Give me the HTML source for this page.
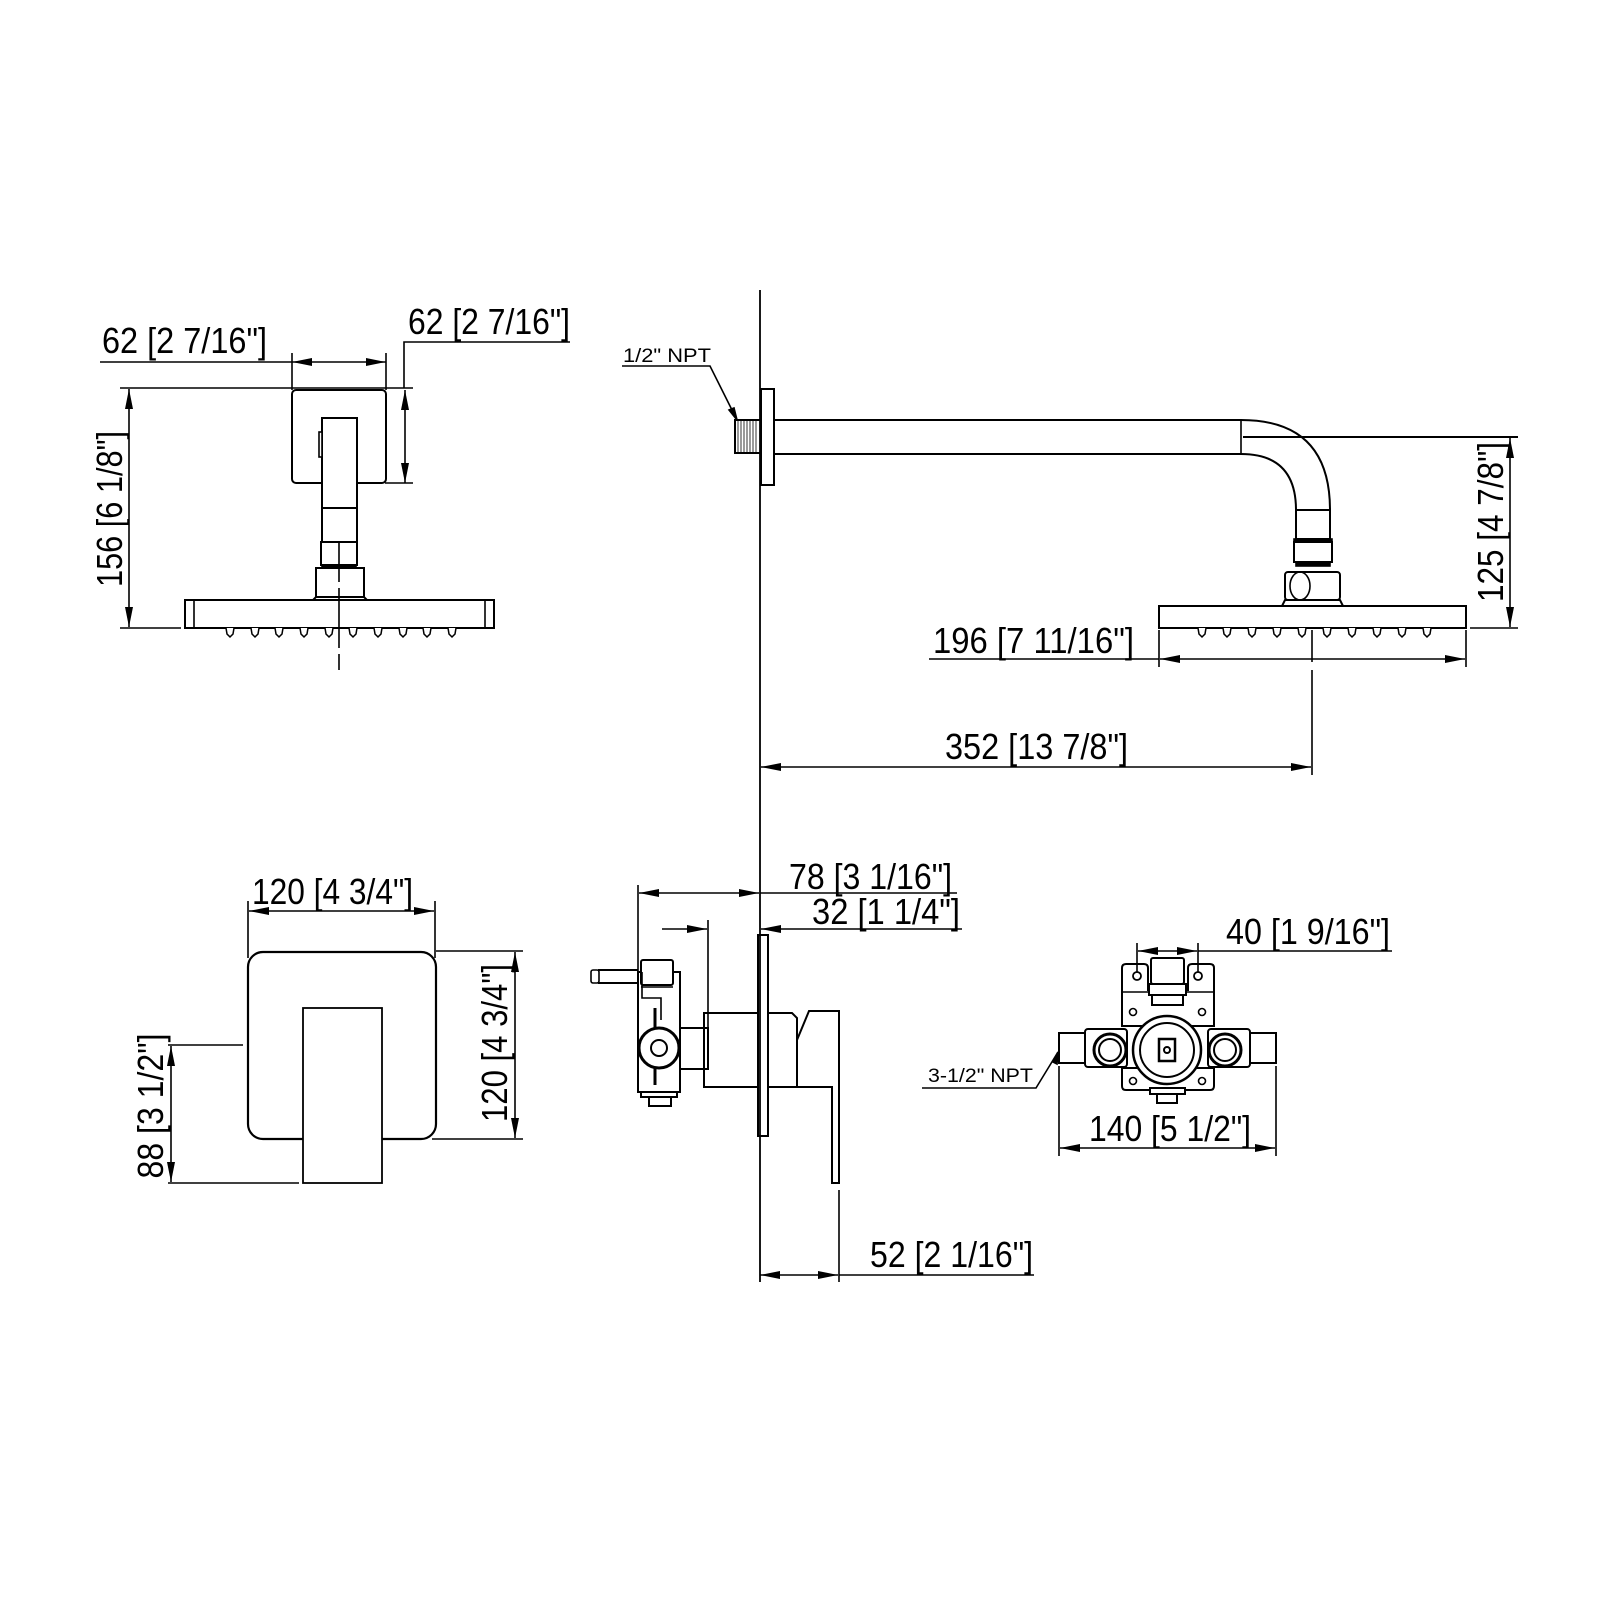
<!DOCTYPE html>
<html><head><meta charset="utf-8"><style>
html,body{margin:0;padding:0;background:#fff;}
svg{display:block}
text{font-family:"Liberation Sans",sans-serif;fill:#000}
</style></head><body>
<svg width="1600" height="1600" viewBox="0 0 1600 1600" xmlns="http://www.w3.org/2000/svg">
<defs>
<marker id="a" markerUnits="userSpaceOnUse" markerWidth="22" markerHeight="10" refX="20" refY="4" orient="auto-start-reverse"><path d="M0,0 L20,4 L0,8 z" fill="#000"/></marker>
</defs>
<g stroke="#000" fill="none" stroke-width="1.6">
<line x1="100" y1="362" x2="292" y2="362"/>
<line x1="292" y1="362" x2="386" y2="362" marker-start="url(#a)" marker-end="url(#a)"/>
<line x1="292" y1="353" x2="292" y2="390"/>
<line x1="386" y1="353" x2="386" y2="390"/>
<polyline points="570,342 404,342 404,388"/>
<line x1="120" y1="388" x2="413" y2="388"/>
<line x1="385" y1="483" x2="413" y2="483"/>
<line x1="405" y1="390" x2="405" y2="483" marker-start="url(#a)" marker-end="url(#a)"/>
<line x1="129" y1="389" x2="129" y2="627" marker-start="url(#a)" marker-end="url(#a)"/>
<line x1="120" y1="628" x2="181" y2="628"/>
<rect x="292" y="390" width="94" height="93" rx="4" stroke-width="2"/>
<rect x="322" y="418" width="35" height="90" fill="#fff" stroke-width="2"/>
<rect x="319" y="432" width="3" height="25" fill="#fff"/>
<rect x="322" y="508" width="35" height="34" fill="#fff" stroke-width="2"/>
<rect x="321" y="542" width="36" height="23" fill="#fff" stroke-width="2"/>
<rect x="322" y="565" width="34" height="3" fill="#000"/>
<rect x="316" y="568" width="48" height="29" fill="#fff" stroke-width="2"/>
<polygon points="316,597 364,597 367,600 313,600" fill="#fff" stroke-width="2"/>
<rect x="185" y="600" width="309" height="28" stroke-width="2"/>
<line x1="194" y1="600" x2="194" y2="628"/>
<line x1="485" y1="600" x2="485" y2="628"/>
<line x1="339" y1="542" x2="339" y2="670" stroke-dasharray="40,6,60,6"/>
<g fill="#fff" stroke-width="1.5">
<path d="M226,628 l1,6 l3,3 l3,-3 l1,-6"/><path d="M251,628 l1,6 l3,3 l3,-3 l1,-6"/><path d="M275,628 l1,6 l3,3 l3,-3 l1,-6"/><path d="M300,628 l1,6 l3,3 l3,-3 l1,-6"/><path d="M325,628 l1,6 l3,3 l3,-3 l1,-6"/><path d="M349,628 l1,6 l3,3 l3,-3 l1,-6"/><path d="M374,628 l1,6 l3,3 l3,-3 l1,-6"/><path d="M399,628 l1,6 l3,3 l3,-3 l1,-6"/><path d="M423,628 l1,6 l3,3 l3,-3 l1,-6"/><path d="M448,628 l1,6 l3,3 l3,-3 l1,-6"/>
</g>

<line x1="760" y1="290" x2="760" y2="1282" stroke-width="1.8"/>

<polyline points="622,366 710,366 737,420"/>
<path d="M737,420 l-8,-10 l5,-2 z" fill="#000"/>
<rect x="735" y="420" width="26" height="33" stroke-width="2"/>
<g stroke-width="0.8"><line x1="738" y1="420" x2="738" y2="453"/><line x1="741" y1="420" x2="741" y2="453"/><line x1="744" y1="420" x2="744" y2="453"/><line x1="747" y1="420" x2="747" y2="453"/><line x1="750" y1="420" x2="750" y2="453"/><line x1="753" y1="420" x2="753" y2="453"/><line x1="756" y1="420" x2="756" y2="453"/></g>
<rect x="761" y="389" width="13" height="96" stroke-width="2"/>
<line x1="774" y1="420" x2="1241" y2="420" stroke-width="2"/>
<line x1="774" y1="454" x2="1241" y2="454" stroke-width="2"/>
<line x1="1241" y1="420" x2="1241" y2="454"/>
<path d="M1241,420 Q1330,420 1330,510" stroke-width="2"/>
<path d="M1241,454 Q1296,454 1296,510" stroke-width="2"/>
<rect x="1296" y="510" width="34" height="29" fill="#fff" stroke-width="2"/>
<rect x="1294" y="539" width="38" height="3" fill="#000"/>
<rect x="1294" y="542" width="38" height="20" fill="#fff" stroke-width="2"/>
<rect x="1296" y="562" width="34" height="4" fill="#000"/>
<rect x="1285" y="572" width="55" height="28" rx="3" fill="#fff" stroke-width="2"/>
<ellipse cx="1300" cy="586" rx="10" ry="14" stroke-width="1.6"/>
<polygon points="1285,600 1340,600 1343,606 1282,606" fill="#fff" stroke-width="2"/>
<rect x="1159" y="606" width="307" height="22" stroke-width="2"/>
<g fill="#fff" stroke-width="1.5">
<path d="M1198,628 l1,6 l3,3 l3,-3 l1,-6"/><path d="M1223,628 l1,6 l3,3 l3,-3 l1,-6"/><path d="M1248,628 l1,6 l3,3 l3,-3 l1,-6"/><path d="M1273,628 l1,6 l3,3 l3,-3 l1,-6"/><path d="M1298,628 l1,6 l3,3 l3,-3 l1,-6"/><path d="M1323,628 l1,6 l3,3 l3,-3 l1,-6"/><path d="M1348,628 l1,6 l3,3 l3,-3 l1,-6"/><path d="M1373,628 l1,6 l3,3 l3,-3 l1,-6"/><path d="M1398,628 l1,6 l3,3 l3,-3 l1,-6"/><path d="M1423,628 l1,6 l3,3 l3,-3 l1,-6"/>
</g>
<line x1="1312" y1="630" x2="1312" y2="662"/>
<line x1="1312" y1="670" x2="1312" y2="775"/>
<line x1="1243" y1="437" x2="1518" y2="437" stroke-width="2"/>
<line x1="1470" y1="628" x2="1518" y2="628"/>
<line x1="1510" y1="438" x2="1510" y2="627" marker-start="url(#a)" marker-end="url(#a)"/>
<line x1="929" y1="659" x2="1159" y2="659"/>
<line x1="1160" y1="659" x2="1465" y2="659" marker-start="url(#a)" marker-end="url(#a)"/>
<line x1="1159" y1="630" x2="1159" y2="667"/>
<line x1="1466" y1="630" x2="1466" y2="667"/>
<line x1="761" y1="767" x2="1311" y2="767" marker-start="url(#a)" marker-end="url(#a)"/>

<line x1="249" y1="911" x2="434" y2="911" marker-start="url(#a)" marker-end="url(#a)"/>
<line x1="248" y1="901" x2="248" y2="958"/>
<line x1="435" y1="901" x2="435" y2="958"/>
<rect x="248" y="952" width="188" height="187" rx="15" stroke-width="2.2"/>
<rect x="303" y="1008" width="79" height="175" fill="#fff" stroke-width="1.8"/>
<line x1="436" y1="951" x2="523" y2="951"/>
<line x1="432" y1="1139" x2="523" y2="1139"/>
<line x1="515" y1="952" x2="515" y2="1138" marker-start="url(#a)" marker-end="url(#a)"/>
<line x1="168" y1="1045" x2="243" y2="1045"/>
<line x1="168" y1="1183" x2="299" y2="1183"/>
<line x1="171" y1="1046" x2="171" y2="1182" marker-start="url(#a)" marker-end="url(#a)"/>

<line x1="639" y1="893" x2="759" y2="893" marker-start="url(#a)" marker-end="url(#a)"/>
<line x1="760" y1="893" x2="957" y2="893"/>
<line x1="638" y1="885" x2="638" y2="972"/>
<line x1="662" y1="929" x2="707" y2="929" marker-end="url(#a)"/>
<line x1="761" y1="929" x2="962" y2="929" marker-start="url(#a)"/>
<line x1="708" y1="920" x2="708" y2="1069"/>
<rect x="758" y="935" width="10" height="201" stroke-width="2"/>
<rect x="704" y="1013" width="54" height="74" stroke-width="2"/>
<polyline points="768,1013 792,1013 797,1018 797,1087 768,1087" stroke-width="2"/>
<polygon points="809,1011 839,1011 839,1183 832,1183 832,1087 797,1087 797,1040" fill="#fff" stroke-width="2"/>
<line x1="839" y1="1190" x2="839" y2="1282"/>
<rect x="638" y="972" width="42" height="120" stroke-width="2"/>
<rect x="641" y="960" width="32" height="25" rx="2" fill="#fff" stroke-width="2"/>
<line x1="641" y1="987" x2="673" y2="987"/>
<line x1="598" y1="970" x2="638" y2="970" stroke-width="2"/>
<line x1="598" y1="983" x2="638" y2="983" stroke-width="2"/>
<rect x="591" y="970" width="8" height="13" rx="2"/>
<polyline points="642,972 642,998 661,998 661,1020" stroke-width="1.6"/>
<line x1="655" y1="1008" x2="655" y2="1085" stroke-width="3"/>
<rect x="680" y="1028" width="28" height="41" stroke-width="2"/>
<circle cx="659" cy="1048" r="20" fill="#fff" stroke-width="3"/>
<circle cx="659" cy="1048" r="8" stroke-width="2"/>
<rect x="641" y="1092" width="36" height="5" stroke-width="2"/>
<rect x="649" y="1097" width="22" height="9" stroke-width="2"/>
<line x1="760" y1="1275" x2="838" y2="1275" marker-start="url(#a)" marker-end="url(#a)"/>
<line x1="839" y1="1275" x2="1034" y2="1275"/>

<line x1="1138" y1="951" x2="1197" y2="951" marker-start="url(#a)" marker-end="url(#a)"/>
<line x1="1198" y1="951" x2="1392" y2="951"/>
<line x1="1137" y1="943" x2="1137" y2="972"/>
<line x1="1198" y1="943" x2="1198" y2="972"/>
<path d="M1122,968 q0,-4 4,-4 h18 q4,0 4,4 v22 h40 v-22 q0,-4 4,-4 h18 q4,0 4,4 v58 h-92 z" stroke-width="2"/>
<line x1="1122" y1="992" x2="1214" y2="992"/>
<circle cx="1137" cy="976" r="4" stroke-width="1.8"/>
<circle cx="1198" cy="976" r="4" stroke-width="1.8"/>
<rect x="1151" y="958" width="33" height="26" rx="2" fill="#fff" stroke-width="2"/>
<rect x="1149" y="984" width="37" height="11" fill="#fff" stroke-width="2"/>
<rect x="1152" y="995" width="31" height="10" fill="#fff" stroke-width="2"/>
<circle cx="1133" cy="1012" r="3.5"/><circle cx="1202" cy="1012" r="3.5"/>
<path d="M1122,1068 h92 v18 q0,4 -4,4 h-84 q-4,0 -4,-4 z" stroke-width="2"/>
<circle cx="1133" cy="1081" r="3.5"/><circle cx="1202" cy="1081" r="3.5"/>
<rect x="1150" y="1088" width="35" height="6" fill="#fff" stroke-width="2"/>
<rect x="1157" y="1094" width="20" height="9" stroke-width="2"/>
<rect x="1059" y="1033" width="26" height="30" stroke-width="2"/>
<rect x="1085" y="1029" width="42" height="38" rx="3" fill="#fff" stroke-width="2"/>
<circle cx="1110" cy="1050" r="16" fill="#fff" stroke-width="3"/>
<circle cx="1110" cy="1050" r="11" stroke-width="2"/>
<rect x="1250" y="1033" width="26" height="30" stroke-width="2"/>
<rect x="1208" y="1029" width="42" height="38" rx="3" fill="#fff" stroke-width="2"/>
<circle cx="1225" cy="1050" r="16" fill="#fff" stroke-width="3"/>
<circle cx="1225" cy="1050" r="11" stroke-width="2"/>
<circle cx="1167" cy="1050" r="34" fill="#fff" stroke-width="2.5"/>
<circle cx="1167" cy="1050" r="27" stroke-width="2"/>
<rect x="1159" y="1039" width="16" height="22" stroke-width="2.5"/>
<circle cx="1167" cy="1050" r="3" stroke-width="2"/>
<polyline points="922,1088 1036,1088 1058,1052"/>
<path d="M1058,1052 l-1,12 l-4,-2 z" fill="#000"/>
<line x1="1060" y1="1148" x2="1275" y2="1148" marker-start="url(#a)" marker-end="url(#a)"/>
<line x1="1059" y1="1066" x2="1059" y2="1156"/>
<line x1="1276" y1="1066" x2="1276" y2="1156"/>
</g>

<g font-size="36">
<text x="102" y="353" textLength="165" lengthAdjust="spacingAndGlyphs">62 [2 7/16"]</text>
<text x="408" y="334" textLength="162" lengthAdjust="spacingAndGlyphs">62 [2 7/16"]</text>
<text transform="translate(122,509) rotate(-90)" text-anchor="middle" textLength="156" lengthAdjust="spacingAndGlyphs">156 [6 1/8"]</text>
<text transform="translate(1503,522) rotate(-90)" text-anchor="middle" textLength="160" lengthAdjust="spacingAndGlyphs">125 [4 7/8"]</text>
<text x="933" y="653" textLength="201" lengthAdjust="spacingAndGlyphs">196 [7 11/16"]</text>
<text x="945" y="759" textLength="183" lengthAdjust="spacingAndGlyphs">352 [13 7/8"]</text>
<text x="252" y="904" textLength="161" lengthAdjust="spacingAndGlyphs">120 [4 3/4"]</text>
<text transform="translate(507,1043) rotate(-90)" text-anchor="middle" textLength="158" lengthAdjust="spacingAndGlyphs">120 [4 3/4"]</text>
<text transform="translate(163,1106) rotate(-90)" text-anchor="middle" textLength="145" lengthAdjust="spacingAndGlyphs">88 [3 1/2"]</text>
<text x="789" y="889" textLength="163" lengthAdjust="spacingAndGlyphs">78 [3 1/16"]</text>
<text x="812" y="924" textLength="148" lengthAdjust="spacingAndGlyphs">32 [1 1/4"]</text>
<text x="870" y="1267" textLength="163" lengthAdjust="spacingAndGlyphs">52 [2 1/16"]</text>
<text x="1226" y="944" textLength="164" lengthAdjust="spacingAndGlyphs">40 [1 9/16"]</text>
<text x="1089" y="1141" textLength="162" lengthAdjust="spacingAndGlyphs">140 [5 1/2"]</text>
</g>
<g font-size="19">
<text x="623" y="362" textLength="88" lengthAdjust="spacingAndGlyphs">1/2" NPT</text>
<text x="928" y="1082" textLength="105" lengthAdjust="spacingAndGlyphs">3-1/2" NPT</text>
</g>
</svg>
</body></html>
